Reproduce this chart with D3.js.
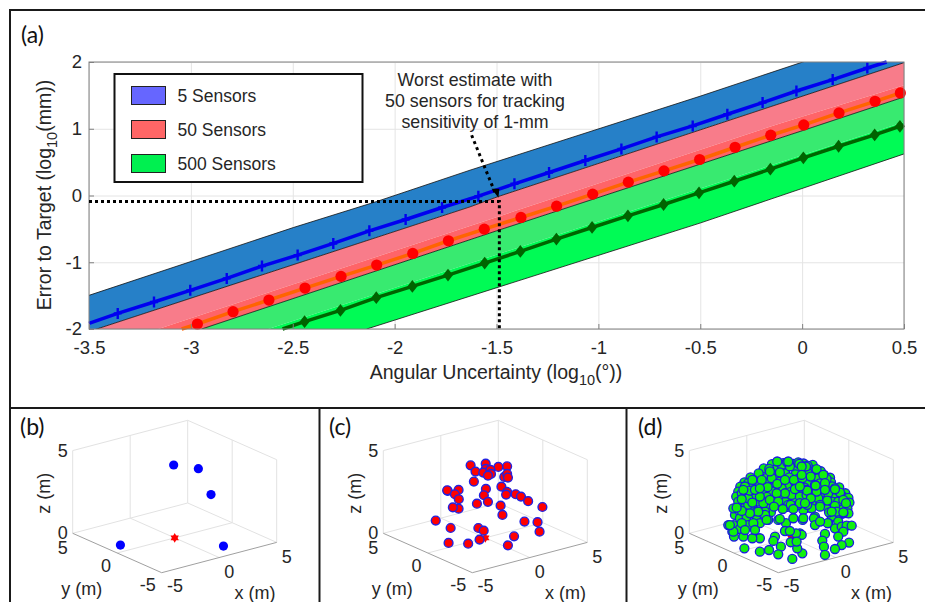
<!DOCTYPE html>
<html>
<head>
<meta charset="utf-8">
<script src="https://cdn.jsdelivr.net/npm/d3@7"></script>
<style>
  html, body { margin: 0; padding: 0; background: #fff; overflow: hidden; }
  svg { display: block; }
  text { font-family: "Liberation Sans", Arial, sans-serif; fill: #262626; }
  .panel-tag { font-family: Lato, "Open Sans", sans-serif; font-size: 23px; fill: #111; }
</style>
</head>
<body>
<svg id="chart" width="925" height="602"></svg>
<script>
// ---------- Panel (a) data ----------
const xTicks = [-3.5, -3, -2.5, -2, -1.5, -1, -0.5, 0, 0.5];
const yTicks = [-2, -1, 0, 1, 2];

const blueLine = [[-3.5,-1.915],[-3.359,-1.766],[-3.181,-1.596],[-3.003,-1.421],[-2.824,-1.242],[-2.651,-1.057],[-2.476,-0.893],[-2.301,-0.718],[-2.124,-0.529],[-1.946,-0.359],[-1.767,-0.18],[-1.589,-0.01],[-1.412,0.175],[-1.242,0.344],[-1.064,0.524],[-0.887,0.698],[-0.714,0.878],[-0.537,1.042],[-0.367,1.217],[-0.194,1.392],[-0.028,1.566],[0.15,1.736],[0.32,1.91],[0.415,2]];
const redLine = [[-3.045,-2],[-2.968,-1.925],[-2.793,-1.741],[-2.617,-1.566],[-2.44,-1.387],[-2.263,-1.212],[-2.088,-1.042],[-1.911,-0.868],[-1.736,-0.678],[-1.56,-0.504],[-1.38,-0.329],[-1.205,-0.16],[-1.028,0.02],[-0.853,0.2],[-0.678,0.369],[-0.503,0.539],[-0.329,0.723],[-0.154,0.903],[0.008,1.057],[0.181,1.237],[0.358,1.411],[0.482,1.536]];
const greenLine = [[-2.55,-2],[-2.442,-1.89],[-2.266,-1.721],[-2.09,-1.531],[-1.913,-1.362],[-1.738,-1.192],[-1.558,-1.012],[-1.383,-0.838],[-1.206,-0.653],[-1.031,-0.479],[-0.855,-0.304],[-0.68,-0.135],[-0.506,0.04],[-0.333,0.214],[-0.156,0.394],[0.006,0.564],[0.179,0.738],[0.356,0.908],[0.48,1.037]];

// band edges, they run a little past the axes and get clipped
const blueUpper = [[-3.5,-1.496],[-2.497,-0.48],[-2.088,-0.09],[-1.63,0.379],[-0.498,1.49],[0.003,2],[0.5,2.5]];
const blueLower = [[-3.5,-2.04],[-3.462,-2],[-1.63,-0.17],[-1.496,-0.02],[0.5,1.99]];
const pinkStrip = [[-3.16,-2],[-0.109,1.08],[0.5,1.65]];
const pinkLower = [[-2.947,-2],[-1.5,-0.53],[0,0.97],[0.5,1.476]];
const greenStrip = [[-2.62,-2],[0.5,1.1]];
const greenLower = [[-2.137,-2],[-0.498,-0.41],[0.5,0.623]];

const guideLevel = [[-3.5,-0.09],[-1.486,-0.09],[-1.486,-2]];
const guidePointer = [[-1.622,0.903],[-1.502,0.005]];

const legendNames = ['5 Sensors', '50 Sensors', '500 Sensors'];
const legendColors = ['#6666ff', '#ff6666', '#00f050'];
const noteLines = ['Worst estimate with', '50 sensors for tracking', 'sensitivity of 1-mm'];

// ---------- Panels (b)-(d): sensors as seen, [across the view -5..5, height 0..5] ----------
const sensors5 = [[-0.05,4.13],[1.16,3.91],[1.78,2.34],[-2.66,-0.71],[2.39,-0.77]];

const sensors50 = [[-0.72,4.11],[0.02,4.21],[0.64,4.01],[1.07,4.05],[-0.48,3.73],[0.02,3.89],[-0.1,3.67],[0.25,3.83],[0.28,3.59],[0.13,3.49],[0.93,3.41],[1.07,3.59],[1.11,3.37],[-0.56,3.13],[0.03,2.68],[0.79,2.82],[-1.84,2.56],[-1.87,2.6],[-1.31,2.62],[-1.49,2.36],[-1.3,2.06],[-0.07,2.3],[1.07,2.5],[1.02,2.34],[1.49,2.36],[1.75,2.22],[2.1,1.94],[0.13,1.9],[-0.41,1.79],[0.75,1.67],[2.8,1.59],[-1.31,1.49],[-1.59,1.57],[0.84,1.11],[-2.43,0.77],[1.92,0.71],[2.56,0.67],[-1.7,0.32],[-0.34,0.32],[-0.08,0.16],[2.66,0.1],[1.41,-0.18],[-1.8,-0.58],[-0.84,-0.63],[-0.28,-0.38],[1.11,-0.73]];

const sensors500 = [
  // filled-in rear layer, mostly hidden
  [-0.95,4.18],[-0.4,4.24],[0.1,4.2],[0.6,4.22],[1.05,4.14],[-1.35,3.92],[-0.75,3.88],[-0.25,3.95],[0.25,3.92],[0.95,3.86],[1.45,3.75],
  [-1.6,3.62],[-0.9,3.58],[-0.3,3.62],[0.2,3.56],[0.8,3.66],[1.3,3.58],[-2.0,3.38],[-1.2,3.36],[-0.8,3.3],[-0.1,3.38],[0.35,3.3],[0.85,3.34],[1.3,3.32],[1.9,3.36],
  [-2.3,3.08],[-1.7,3.02],[-1.25,3.06],[-0.35,3.02],[0.05,3.08],[0.4,3.0],[0.85,3.05],[1.4,3.02],[1.95,3.08],
  [-2.5,2.82],[-1.95,2.78],[-1.4,2.84],[-0.85,2.78],[-0.2,2.84],[0.25,2.8],[0.65,2.76],[1.5,2.8],[2.0,2.84],[2.35,2.78],
  [-2.6,2.52],[-2.1,2.46],[-1.3,2.5],[-0.95,2.54],[-0.5,2.48],[0,2.52],[0.5,2.46],[1.45,2.5],[1.9,2.54],[2.3,2.48],[2.65,2.42],
  [-2.7,2.22],[-2.2,2.18],[-1.75,2.24],[-1.2,2.2],[-0.55,2.16],[-0.05,2.22],[0.55,2.18],[1.15,2.24],[1.6,2.2],[2.05,2.16],[2.5,2.24],[2.8,2.14],
  [-2.35,1.88],[-1.4,1.94],[-0.3,1.9],[0.2,1.94],[1.1,1.88],[1.55,1.94],[2.2,1.9],[2.85,1.86],
  [-2.35,1.6],[-1.9,1.58],[-1.3,1.64],[-1.0,1.56],[-0.2,1.6],[0.75,1.54],[1.75,1.6],[2.4,1.62],[2.75,1.5],[-2.25,1.3],[-1.0,1.28],[2.8,1.2],
  // back of the dome
  [-1.08,3.89],[-0.47,4.13],[-0.2,4.29],[0.34,4.29],[0.8,4.09],[1.24,3.88],[1.6,3.53],[1.73,3.29],[2.14,2.72],[-1.86,3.23],[-2.11,3.03],[-2.27,2.83],[-2.43,2.42],[-2.6,1.92],[-2.68,1.51],[-2.76,1.11],[-2.52,1.31],[-2.11,1.72],[-1.62,1.92],[-0.88,1.92],[-1.29,1.31],[-1.13,0.81],[-0.64,0.81],[-0.26,0.61],[0.1,0.91],[0.59,1.41],[1,1.51],[-0.15,1.72],[0.34,1.72],[1.16,1.01],[-0.56,3.13],[-0.96,3.33],[-0.47,2.72],[0.02,2.32],[0.42,2.22],[1,2.42],[1.32,2.12],[1.81,2.42],[1.98,1.92],[2.3,1.92],[-2.11,2.12],[-1.7,1.31],[-2.52,0.91],[-2.19,1.01],[-1.7,0.81],[-1.29,1.11],[-2.84,0.5],[-3.09,0.5],[-2.89,0.1],[-2.11,0.5],[-2.52,0.26],[-1.54,0.61],[1.98,1.01],[2.39,1.11],[2.3,0.71],
  // upper left
  [-2.43,2.06],[-1.91,1.86],[-1.37,1.82],[-1.54,2.22],[-2.03,2.58],[-1.78,2.63],[-1.91,3.23],[-1.45,3.23],[-1.16,2.79],[-0.69,2.99],[-1.05,3.74],[-0.56,3.68],[-0.69,4.34],[-0.07,4.04],[0.39,4.2],[0.72,4.04],[-0.31,3.23],[0.13,3.23],[0.54,3.33],[0.18,2.67],[-0.31,2.42],[-0.72,2.42],[-1.05,2.02],[-0.64,1.92],[0.75,2.63],[-0.03,1.72],[0.42,1.82],[0.78,1.72],[-2.84,1.51],[-2.35,2.63],[-1.54,2.72],[-0.15,4.34],[0.75,2.32],
  // upper right
  [0.51,4.04],[0.95,3.43],[0.51,3.53],[1.57,3.53],[1.16,2.93],[0.78,2.58],[1.24,2.52],[2.39,2.46],[2.14,2.66],[2.55,2.02],[1.76,1.98],[2.14,1.66],[1.41,1.72],[0.96,2.12],[0.67,1.82],[0.42,2.83],[1.65,3.03],[2.68,1.82],[1.65,2.63],[1.19,2.89],[2.55,1.21],[2.22,1.31],[1.85,1.27],[1.98,1.31],[2.55,1.27],[1.41,1.61],
  // lower right
  [1.81,0.61],[2.14,0.3],[2.47,0.4],[2.71,0.46],[2.96,0.46],[2.55,0.1],[2.3,-0.2],[2.83,-0.56],[2.47,-0.71],[2.14,-0.95],[1.65,-0.04],[1.52,-0.44],[1.6,-0.81],[1.65,-1.31],[0.56,0.81],[1.11,0.91],[1.16,0.5],[1.78,0.61],[1.41,0.71],[0.42,0],[0.51,-0.1],
  // lower left and middle
  [-2.3,-0.91],[-1.54,-1.11],[-1.09,-1.01],[-0.51,-0.81],[-0.64,-1.27],[-0.8,-0.2],[-0.88,-0.46],[0.05,-1.55],[0.54,-1.21],[0.29,-0.91],[-0.03,-0.54],[0.23,0],[-0.31,0.14],[-0.07,0.14],[0.59,0.91],[0.1,1.47],[-0.56,0.87],[-1.21,0.81],[-1.54,-0.3],[-1.91,-0.3],[-2.35,-0.2],[-2.81,-0.2],[-2.84,0.1],[-2.43,0.61],[-1.86,0.61],[-1.78,0.2],[-2.27,0.2],[-1.62,1.31],[-2.03,1.21],[-2.43,1.35],[-2.68,1.55],[-3.01,0.5],[-0.42,1.47],[-0.85,1.61],[0.26,-0.5]
];

const svg = d3.select('#chart');

// ---------- Frame ----------
const frame = svg.append('g').attr('fill', 'none').attr('stroke', '#1a1a1a').attr('stroke-width', 2);
frame.append('path').attr('d', 'M10,602V10H925');
frame.append('path').attr('d', 'M10,408H925');
frame.append('path').attr('d', 'M319.5,408V602');
frame.append('path').attr('d', 'M626.5,408V602');

// ---------- Panel (a) ----------
function drawMain() {
  const box = { left: 89, right: 904, top: 62, bottom: 329 };
  const x = d3.scaleLinear().domain([-3.5, 0.5]).range([box.left, box.right]);
  const y = d3.scaleLinear().domain([-2, 2]).range([box.bottom, box.top]);
  const line = d3.line().x((d) => x(d[0])).y((d) => y(d[1]));

  svg.append('text').attr('class', 'panel-tag').attr('x', 21).attr('y', 43).text('(a)');

  svg.append('clipPath').attr('id', 'plot-clip').append('rect')
    .attr('x', box.left).attr('y', box.top)
    .attr('width', box.right - box.left).attr('height', box.bottom - box.top);

  // gridlines
  const grid = svg.append('g').attr('class', 'grid');
  grid.append('g').attr('transform', `translate(0,${box.bottom})`)
    .call(d3.axisBottom(x).tickValues(xTicks).tickSize(box.top - box.bottom).tickFormat(''));
  grid.append('g').attr('transform', `translate(${box.left},0)`)
    .call(d3.axisLeft(y).tickValues(yTicks).tickSize(box.left - box.right).tickFormat(''));
  grid.selectAll('.domain').remove();
  grid.selectAll('line').attr('stroke', '#e4e4e4');

  // bands, top to bottom
  const strips = [
    [blueUpper, blueLower, '#2680c8'],
    [blueLower, pinkStrip, '#f87c8a'],
    [pinkStrip, pinkLower, '#ff6468'],
    [pinkLower, greenStrip, '#38ea70'],
    [greenStrip, greenLower, '#00fb55'],
  ];
  const bands = svg.append('g').attr('clip-path', 'url(#plot-clip)');
  bands.selectAll('path.strip').data(strips).join('path')
    .attr('class', 'strip')
    .attr('d', (d) => line([...d[0], ...d[1].slice().reverse()]) + 'Z')
    .attr('fill', (d) => d[2]);
  bands.selectAll('path.edge').data([blueUpper, blueLower, pinkLower, greenLower]).join('path')
    .attr('class', 'edge')
    .attr('d', line)
    .attr('fill', 'none')
    .attr('stroke', '#111')
    .attr('stroke-width', 0.8);

  // mean lines and markers
  svg.append('path').attr('d', line(blueLine)).attr('fill', 'none').attr('stroke', '#0000f0').attr('stroke-width', 3.5);
  svg.append('path').attr('d', line(redLine)).attr('fill', 'none').attr('stroke', '#ff6400').attr('stroke-width', 3.5);
  svg.append('path').attr('d', line(greenLine)).attr('fill', 'none').attr('stroke', '#006400').attr('stroke-width', 3.5);

  svg.append('g').selectAll('path').data(blueLine.slice(1, -1)).join('path')
    .attr('transform', (d) => `translate(${x(d[0])},${y(d[1])})`)
    .attr('d', 'M-4,0H4M0,-5.5V5.5')
    .attr('fill', 'none').attr('stroke', '#0000f0').attr('stroke-width', 2.4);
  svg.append('g').selectAll('circle').data(redLine.slice(1)).join('circle')
    .attr('cx', (d) => x(d[0])).attr('cy', (d) => y(d[1])).attr('r', 5.6).attr('fill', '#ff0000');
  svg.append('g').selectAll('path').data(greenLine.slice(1)).join('path')
    .attr('transform', (d) => `translate(${x(d[0])},${y(d[1])})`)
    .attr('d', 'M0,-6.4L5,0L0,6.4L-5,0Z')
    .attr('fill', '#006400');

  // axes go above the bands
  const xAxis = svg.append('g').attr('transform', `translate(0,${box.bottom})`)
    .call(d3.axisBottom(x).tickValues(xTicks).tickSize(-5).tickPadding(12).tickFormat((d) => String(d)));
  const yAxis = svg.append('g').attr('transform', `translate(${box.left},0)`)
    .call(d3.axisLeft(y).tickValues(yTicks).tickSize(-5).tickPadding(7).tickFormat((d) => String(d)));
  for (const axis of [xAxis, yAxis]) {
    axis.selectAll('.domain').remove();
    axis.selectAll('line').attr('stroke', '#808080');
    axis.selectAll('text').style('font-size', '18.5px').style('font-family', '"Liberation Sans", Arial, sans-serif').attr('fill', '#262626');
  }
  svg.append('rect')
    .attr('x', box.left).attr('y', box.top)
    .attr('width', box.right - box.left).attr('height', box.bottom - box.top)
    .attr('fill', 'none').attr('stroke', '#808080').attr('stroke-width', 1);

  // axis titles
  const xTitle = svg.append('text').attr('x', 496).attr('y', 379).attr('text-anchor', 'middle').style('font-size', '19.5px');
  xTitle.append('tspan').text('Angular Uncertainty (log');
  xTitle.append('tspan').attr('dy', 6).style('font-size', '14.5px').text('10');
  xTitle.append('tspan').attr('dy', -6).text('(°))');

  const yTitle = svg.append('text')
    .attr('transform', 'translate(51,195) rotate(-90)')
    .attr('text-anchor', 'middle').style('font-size', '19.5px');
  yTitle.append('tspan').text('Error to Target (log');
  yTitle.append('tspan').attr('dy', 6).style('font-size', '14.5px').text('10');
  yTitle.append('tspan').attr('dy', -6).text('(mm))');

  // dotted guides
  svg.append('path').attr('d', line(guideLevel))
    .attr('fill', 'none').attr('stroke', '#000').attr('stroke-width', 3).attr('stroke-dasharray', '3 3');
  svg.append('path').attr('d', line(guidePointer))
    .attr('fill', 'none').attr('stroke', '#000').attr('stroke-width', 3).attr('stroke-dasharray', '3 3.5');
  const tip = guidePointer[1];
  svg.append('path')
    .attr('transform', `translate(${x(tip[0])},${y(tip[1])})`)
    .attr('d', 'M-4.5,-6.4L3.3,-6.4L2.3,2.6Z')
    .attr('fill', '#000');

  // note
  svg.append('g').selectAll('text').data(noteLines).join('text')
    .attr('x', 475).attr('y', (d, i) => 86 + i * 21)
    .attr('text-anchor', 'middle').style('font-size', '17.8px')
    .text((d) => d);

  // legend
  const legend = svg.append('g').attr('transform', 'translate(114.5,74)');
  legend.append('rect').attr('width', 248).attr('height', 108)
    .attr('fill', '#fff').attr('stroke', '#111').attr('stroke-width', 2);
  const rows = legend.selectAll('g').data(legendNames).join('g')
    .attr('transform', (d, i) => `translate(17,${12.5 + i * 34})`);
  rows.append('rect').attr('width', 34).attr('height', 18)
    .attr('fill', (d, i) => legendColors[i]).attr('stroke', '#222').attr('stroke-width', 1);
  rows.append('text').attr('x', 46).attr('y', 15.5).style('font-size', '17.5px').text((d) => d);
}

// ---------- Panels (b)-(d) ----------
function drawCube(opts) {
  const g = svg.append('g').attr('transform', `translate(${opts.left},533.3)`);
  // view box of the MATLAB camera: left corner at 0,0
  const xStep = d3.scaleLinear().domain([-5, 5]).range([0, 115]);
  const yStep = d3.scaleLinear().domain([5, -5]).range([0, 89]);
  const riseX = d3.scaleLinear().domain([-5, 5]).range([0, -30.3]);
  const riseY = d3.scaleLinear().domain([5, -5]).range([0, 39.4]);
  const zScale = d3.scaleLinear().domain([0, 5]).range([0, -82.7]);
  const project = (px, py, pz) => [xStep(px) + yStep(py), riseX(px) + riseY(py) + zScale(pz)];
  const viewU = d3.scaleLinear().domain([-5, 5]).range([0, 204]);
  const viewV = d3.scaleLinear().domain([0, 5]).range([0, -82.7]);
  const seg = (a, b) => `M${project(...a)}L${project(...b)}`;

  svg.append('text').attr('class', 'panel-tag').attr('x', opts.tagX).attr('y', 435).text(opts.tag);

  const wallLines = [
    [[-5,5,0],[-5,5,5]], [[0,5,0],[0,5,5]], [[5,5,0],[5,5,5]], [[5,0,0],[5,0,5]], [[5,-5,0],[5,-5,5]],
    [[-5,5,5],[5,5,5]], [[5,5,5],[5,-5,5]],
    [[-5,5,0],[5,5,0]], [[5,5,0],[5,-5,0]], [[0,5,0],[0,-5,0]], [[-5,0,0],[5,0,0]],
  ];
  g.append('g').selectAll('path').data(wallLines).join('path')
    .attr('d', (d) => seg(d[0], d[1])).attr('stroke', '#e2e2e2').attr('fill', 'none');
  g.append('path').attr('d', seg([-5,5,0],[-5,-5,0]) + seg([-5,-5,0],[5,-5,0]))
    .attr('stroke', '#a0a0a0').attr('fill', 'none');

  // target at the origin
  const target = project(0, 0, 0);
  g.append('g').attr('transform', `translate(${target})`).selectAll('path').data([0, 180]).join('path')
    .attr('d', d3.symbol(d3.symbolTriangle, 30))
    .attr('transform', (d) => `rotate(${d})`)
    .attr('fill', '#ff0000');

  g.append('g').selectAll('circle').data(opts.points).join('circle')
    .attr('cx', (d) => viewU(d[0])).attr('cy', (d) => viewV(d[1]))
    .attr('r', opts.r).attr('fill', opts.fill).attr('stroke', opts.stroke).attr('stroke-width', opts.strokeWidth);

  // tick labels
  const labels = g.append('g').style('font-size', '18px').attr('text-anchor', 'middle');
  const place = (p, dx, dy, text) => {
    const at = project(...p);
    labels.append('text').attr('x', at[0] + dx).attr('y', at[1] + dy).text(text);
  };
  place([-5, -5, 0], 13.3, 19.8, -5);
  place([0, -5, 0], 10, 20.7, 0);
  place([5, -5, 0], 10, 21, 5);
  place([-5, -5, 0], -14, 18.8, -5);
  place([-5, 0, 0], -11.2, 19.2, 0);
  place([-5, 5, 0], -10, 20.5, 5);
  place([-5, 5, 0], -10, 5.5, 0);
  place([-5, 5, 5], -10, 6.5, 5);

  labels.append('text').attr('x', 9).attr('y', 61.7).text('y (m)');
  labels.append('text').attr('x', 182.3).attr('y', 65.7).text('x (m)');
  labels.append('text').attr('transform', 'translate(-22.7,-40) rotate(-90)').text('z (m)');
}

drawMain();
drawCube({ left: 72.7, tag: '(b)', tagX: 20, points: sensors5, r: 4.6, fill: '#0000ff', stroke: 'none', strokeWidth: 0 });
drawCube({ left: 383.3, tag: '(c)', tagX: 329, points: sensors50, r: 4.4, fill: '#ff0000', stroke: '#2222e0', strokeWidth: 1.4 });
drawCube({ left: 689.3, tag: '(d)', tagX: 638, points: sensors500, r: 4.5, fill: '#10f010', stroke: '#1a1ae0', strokeWidth: 1.3 });
</script>
</body>
</html>
